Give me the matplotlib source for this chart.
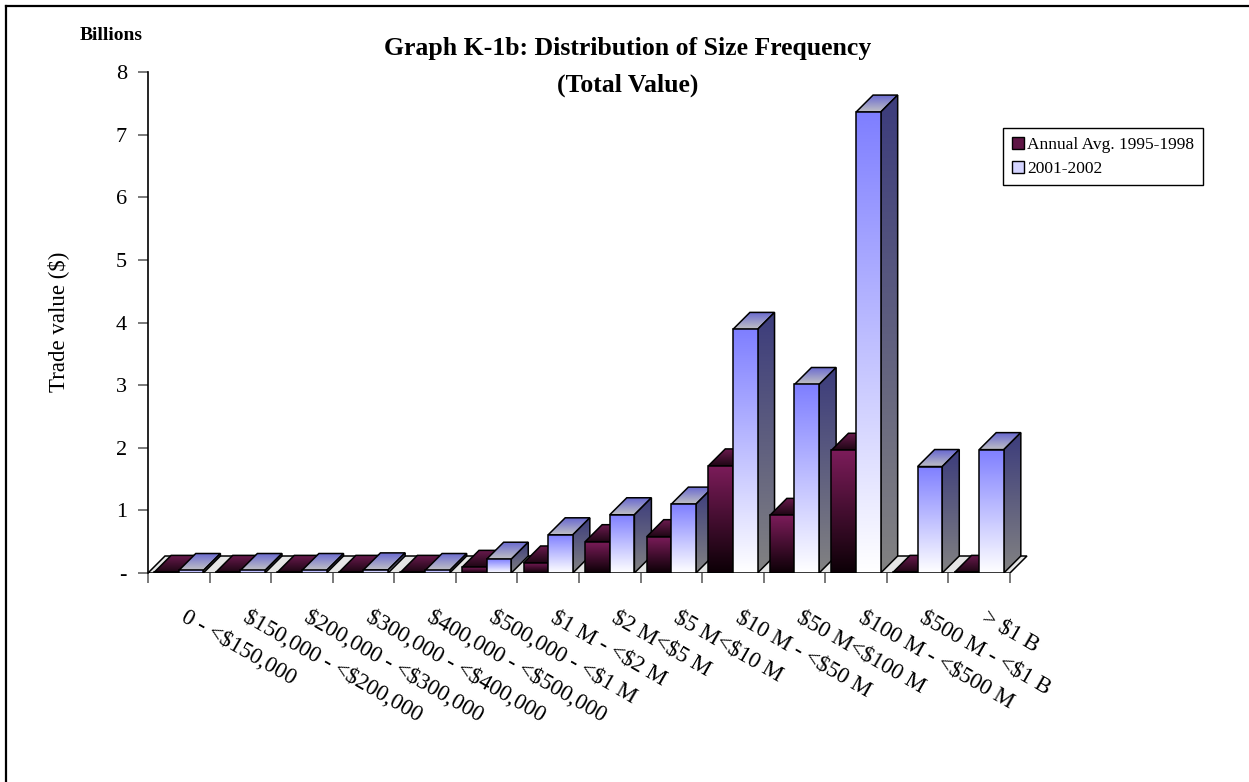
import numpy as np
import matplotlib.pyplot as plt
from matplotlib.patches import Polygon, Patch
from matplotlib.lines import Line2D
from matplotlib.colors import to_rgb

plt.rcParams['font.family'] = ['Liberation Serif', 'DejaVu Serif']
plt.rcParams['text.parse_math'] = False

categories = ['0 - <$150,000', '$150,000 - <$200,000', '$200,000 - <$300,000',
              '$300,000 - <$400,000', '$400,000 - <$500,000', '$500,000 - <$1 M',
              '$1 M - <$2 M', '$2 M<$5 M', '$5 M<$10 M', '$10 M - <$50 M',
              '$50 M<$100 M', '$100 M - <$500 M', '$500 M - <$1 B', '> $1 B']
avg_1995_1998 = [0.01, 0.01, 0.01, 0.01, 0.01, 0.09, 0.16, 0.50, 0.58, 1.71, 0.92, 1.96, 0.01, 0.01]
val_2001_2002 = [0.04, 0.04, 0.04, 0.05, 0.04, 0.22, 0.61, 0.93, 1.10, 3.89, 3.01, 7.36, 1.70, 1.97]
series_names = ['Annual Avg. 1995-1998', '2001-2002']
yticks = [0, 1, 2, 3, 4, 5, 6, 7, 8]
ytick_labels = ['-', '1', '2', '3', '4', '5', '6', '7', '8']

W, H = 1249, 782
fig = plt.figure(figsize=(W / 100, H / 100), dpi=100)

n = len(categories)
px_cat = 61.57                   # pixels per category
xmax = n + 0.4
ax = fig.add_axes([148 / W, (H - 573) / H, xmax * px_cat / W, (573 - 72) / H])
ax.set_xlim(0, xmax)
ax.set_ylim(0, 8)

# oblique depth of the pseudo-3d boxes, in data units
DX = 17 / px_cat
DY = 17 / 62.63

zc = [1]


def shade(verts, c_top, c_bot):
    z = zc[0]
    zc[0] += 1
    poly = Polygon(verts, closed=True, facecolor='none', edgecolor='black',
                   lw=1.1, zorder=z + 0.5, joinstyle='miter')
    ax.add_patch(poly)
    xs = [v[0] for v in verts]
    ys = [v[1] for v in verts]
    t = np.linspace(0, 1, 128)[:, None, None]
    img = np.array(to_rgb(c_top)) * (1 - t) + np.array(to_rgb(c_bot)) * t
    im = ax.imshow(img, extent=(min(xs), max(xs), min(ys), max(ys)), origin='upper',
                   aspect='auto', interpolation='bilinear', zorder=z)
    im.set_clip_path(poly)


def box(x0, w, h, front, side, top):
    x1 = x0 + w
    shade([(x0, h), (x1, h), (x1 + DX, h + DY), (x0 + DX, h + DY)], top[0], top[1])
    shade([(x1, 0), (x1 + DX, DY), (x1 + DX, h + DY), (x1, h)], side[0], side[1])
    shade([(x0, 0), (x1, 0), (x1, h), (x0, h)], front[0], front[1])


# floor
shade([(0, 0), (n, 0), (n + DX, DY), (DX, DY)], '#e6e6e6', '#e6e6e6')

maroon = dict(front=('#7c1c5a', '#0c0006'), side=('#3a0a28', '#0c0006'),
              top=('#6a1a4e', '#1e0614'))
blue = dict(front=('#7f7fff', '#ffffff'), side=('#3c3c7c', '#828282'),
            top=('#6a6ad0', '#c0c0c4'))

bw = 0.4
for i in range(n):
    box(i + 0.1, bw, avg_1995_1998[i], **maroon)
    box(i + 0.1 + bw, bw, val_2001_2002[i], **blue)

ax.set_ylim(0, 8)
ax.set_xlim(0, xmax)
for s in ['top', 'right', 'bottom']:
    ax.spines[s].set_visible(False)
ax.spines['left'].set_color('black')
ax.spines['left'].set_linewidth(1.2)

ax.set_yticks(yticks)
ax.set_yticklabels(ytick_labels, fontsize=16)
ax.set_xticks(range(n + 1))
ax.set_xticklabels([])
ax.tick_params(axis='y', length=7.2, width=1.1, color='#555555', pad=8)
ax.tick_params(axis='x', length=7.2, width=1.1, color='#555555')

for i, lab in enumerate(categories):
    ax.annotate(lab, xy=(i + 0.5, 0), xytext=(3, -31), textcoords='offset points',
                rotation=-30, rotation_mode='anchor', ha='left', va='center',
                fontsize=16.5, annotation_clip=False)

fig.text(628 / W, 1 - 48 / H, 'Graph K-1b: Distribution of Size Frequency',
         ha='center', va='center', fontsize=18.5, fontweight='bold')
fig.text(628 / W, 1 - 85 / H, '(Total Value)',
         ha='center', va='center', fontsize=18.5, fontweight='bold')
fig.text(111 / W, 1 - 35 / H, 'Billions', ha='center', va='center',
         fontsize=14, fontweight='bold')
fig.text(58 / W, 1 - 322 / H, 'Trade value ($)', rotation=90,
         ha='center', va='center', fontsize=16.5)

handles = [Patch(facecolor='#5e1545', edgecolor='black'),
           Patch(facecolor='#d4d4ff', edgecolor='black')]
leg = fig.legend(handles, series_names, loc='upper left',
                 bbox_to_anchor=(1003 / W, 1 - 128 / H), fontsize=12.5,
                 fancybox=False, edgecolor='black', framealpha=1,
                 handlelength=0.7, handleheight=0.7, handletextpad=0.2,
                 borderpad=0.5, labelspacing=0.45, borderaxespad=0)
leg.get_frame().set_linewidth(1.0)

# chart frame (left and top edges)
fig.add_artist(Line2D([6 / W, 6 / W], [0, 1 - 6 / H], transform=fig.transFigure,
                      color='black', lw=1.6))
fig.add_artist(Line2D([6 / W, 1], [1 - 6 / H, 1 - 6 / H], transform=fig.transFigure,
                      color='black', lw=1.6))

fig.savefig('out.png', dpi=100)
